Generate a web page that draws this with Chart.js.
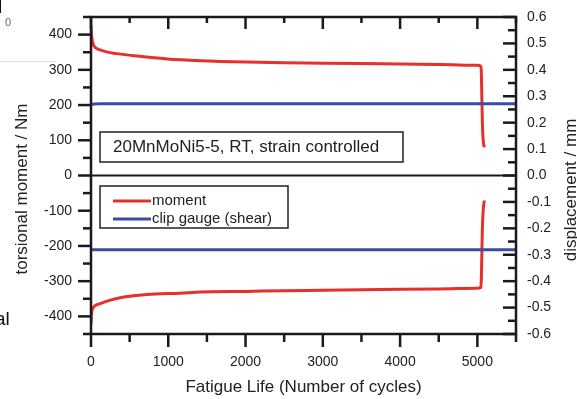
<!DOCTYPE html>
<html><head><meta charset="utf-8">
<script src="https://cdn.jsdelivr.net/npm/chart.js@4.4.1/dist/chart.umd.min.js"></script>
<style>
html,body{margin:0;padding:0;background:#fff;}
#wrap{position:relative;width:577px;height:399px;overflow:hidden;background:#fff;}
canvas{position:absolute;left:0;top:0;}
.art{position:absolute;font-family:"Liberation Sans",Arial,sans-serif;color:#111;white-space:nowrap;line-height:1;}
</style></head><body>
<div id="wrap">
<canvas id="c" width="577" height="399"></canvas>
<div class="art" style="left:-12px;top:-4px;font-size:20px;font-weight:bold;">П</div>
<div class="art" style="left:5px;top:17px;font-size:11px;color:#666;">0</div>
<div class="art" style="left:-5px;top:309px;font-size:19px;">al</div>
<div style="position:absolute;left:0;top:61px;width:55px;height:1px;background:#ddd;"></div>
</div>
<script>
// ---- data ----
const cyclesUpper = [0, 5, 15, 30, 52, 100, 200, 333, 600, 987, 1415, 2000, 2500, 3000, 3750, 4500, 5000, 5045, 5052, 5058, 5065, 5075, 5090];
const momentUpper = [426, 405, 385, 372, 364, 358, 351, 346, 339, 331, 326, 322, 320, 319, 317, 315, 313, 310, 290, 220, 150, 100, 80];
const cyclesLower = [0, 4, 10, 22, 50, 117, 250, 377, 723, 1156, 1416, 2000, 2500, 3000, 3750, 4500, 5000, 5045, 5052, 5058, 5065, 5075, 5090];
const momentLower = [-422, -400, -386, -378, -370, -364, -354, -347, -338, -334, -331, -329, -327, -326, -324, -322, -320, -318, -290, -220, -150, -100, -71];
const clipCycles = [0, 100, 2000, 4000, 5500];
const clipUpper = [0.270, 0.272, 0.272, 0.272, 0.272];
const clipLower = [-0.281, -0.281, -0.281, -0.281, -0.281];

const xTicks = [0, 1000, 2000, 3000, 4000, 5000];
const xMinorTicks = [500, 1500, 2500, 3500, 4500, 5500];
const leftTicks = [-400, -300, -200, -100, 0, 100, 200, 300, 400];
const leftMinorTicks = [-450, -350, -250, -150, -50, 50, 150, 250, 350, 450];
const rightTicks = [-0.6, -0.5, -0.4, -0.3, -0.2, -0.1, 0, 0.1, 0.2, 0.3, 0.4, 0.5, 0.6];
const rightMinorTicks = [-0.55, -0.45, -0.35, -0.25, -0.15, -0.05, 0.05, 0.15, 0.25, 0.35, 0.45, 0.55];

const xTitle = 'Fatigue Life (Number of cycles)';
const leftTitle = 'torsional moment / Nm';
const rightTitle = 'displacement / mm';
const boxText = '20MnMoNi5-5, RT, strain controlled';
const legendLabels = ['moment', 'clip gauge (shear)'];

const RED = '#e5302b', BLUE = '#3a4da6', INK = '#1a1a1a', TXT = '#222';
const F = '"Liberation Sans", Arial, sans-serif';

const pts = (xs, ys) => xs.map((x, i) => ({x, y: ys[i]}));
const noPad = s => { s.paddingTop = 0; s.paddingBottom = 0; s.paddingLeft = 0; s.paddingRight = 0; };

const decor = {
  id: 'decor',
  afterDatasetsDraw(chart) {
    const {ctx, chartArea: a, scales} = chart;
    const x = scales.x, y = scales.y, y2 = scales.y2;
    const seg = (x1, y1, x2, y2_) => { ctx.beginPath(); ctx.moveTo(x1, y1); ctx.lineTo(x2, y2_); ctx.stroke(); };
    ctx.save();
    ctx.strokeStyle = INK;
    ctx.lineCap = 'butt';
    // zero line
    ctx.lineWidth = 2;
    const y0 = y.getPixelForValue(0);
    seg(a.left, y0, a.right, y0);
    // frame
    ctx.lineWidth = 2.5;
    ctx.strokeRect(a.left, a.top, a.right - a.left, a.bottom - a.top);
    // ticks
    ctx.lineWidth = 2.5;
    leftTicks.forEach(v => { const p = y.getPixelForValue(v); seg(a.left - 13, p, a.left, p); });
    leftMinorTicks.forEach(v => { const p = y.getPixelForValue(v); seg(a.left - 8, p, a.left, p); });
    rightTicks.forEach(v => { const p = y2.getPixelForValue(v); seg(a.right - 13, p, a.right, p); });
    rightMinorTicks.forEach(v => { const p = y2.getPixelForValue(v); seg(a.right - 8, p, a.right, p); });
    xTicks.forEach(v => { const p = x.getPixelForValue(v); seg(p, a.bottom, p, a.bottom + 13); seg(p, a.top, p, a.top + 12); });
    xMinorTicks.forEach(v => { const p = x.getPixelForValue(v); seg(p, a.bottom, p, a.bottom + 8); seg(p, a.top, p, a.top + 6); });
    // annotation box
    ctx.lineWidth = 1.5;
    ctx.strokeStyle = '#222';
    const bx = a.left + 9, by = a.top + 115;
    ctx.strokeRect(bx, by, 303, 30);
    ctx.fillStyle = TXT;
    ctx.font = '17px ' + F;
    ctx.textBaseline = 'middle';
    ctx.textAlign = 'left';
    ctx.fillText(boxText, bx + 13, by + 15.5);
    // legend
    const lx = a.left + 9, ly = a.top + 169;
    ctx.strokeRect(lx, ly, 188, 42);
    ctx.font = '15px ' + F;
    const ds = chart.data.datasets;
    [[ds[2].borderColor, legendLabels[0], 15], [ds[0].borderColor, legendLabels[1], 33]].forEach(([c, t, dy]) => {
      ctx.strokeStyle = c; ctx.lineWidth = 3;
      seg(lx + 13, ly + dy, lx + 51, ly + dy);
      ctx.fillStyle = TXT;
      ctx.fillText(t, lx + 52, ly + dy);
    });
    // vertical axis titles
    ctx.font = '17px ' + F;
    ctx.textAlign = 'center';
    ctx.textBaseline = 'middle';
    ctx.fillStyle = TXT;
    ctx.save(); ctx.translate(22, 189); ctx.rotate(-Math.PI / 2); ctx.fillText(leftTitle, 0, 0); ctx.restore();
    ctx.save(); ctx.translate(571, 190); ctx.rotate(-Math.PI / 2); ctx.fillText(rightTitle, 0, 0); ctx.restore();
    ctx.restore();
  }
};

new Chart(document.getElementById('c'), {
  type: 'line',
  data: {
    datasets: [
      {label: legendLabels[1], data: pts(clipCycles, clipUpper), yAxisID: 'y2', borderColor: BLUE, borderWidth: 3, pointRadius: 0, order: 0},
      {label: legendLabels[1] + ' min', data: pts(clipCycles, clipLower), yAxisID: 'y2', borderColor: BLUE, borderWidth: 3, pointRadius: 0, order: 0},
      {label: legendLabels[0], data: pts(cyclesUpper, momentUpper), yAxisID: 'y', borderColor: RED, borderWidth: 3, pointRadius: 0, cubicInterpolationMode: 'monotone', order: 1},
      {label: legendLabels[0] + ' min', data: pts(cyclesLower, momentLower), yAxisID: 'y', borderColor: RED, borderWidth: 3, pointRadius: 0, cubicInterpolationMode: 'monotone', order: 1}
    ]
  },
  options: {
    responsive: false,
    animation: false,
    devicePixelRatio: 1,
    layout: {padding: {top: 17, left: 0, right: 0, bottom: 0}},
    plugins: {legend: {display: false}, tooltip: {enabled: false}},
    scales: {
      x: {
        type: 'linear', position: 'bottom', min: 0, max: 5500,
        afterBuildTicks: s => { s.ticks = xTicks.map(v => ({value: v})); },
        afterFit: s => { s.height = 65; noPad(s); },
        grid: {display: false, drawTicks: false},
        border: {display: false},
        ticks: {padding: 20, color: TXT, font: {family: F, size: 14}, maxRotation: 0, callback: v => String(v)},
        title: {display: true, text: xTitle, color: TXT, font: {family: F, size: 17}, padding: {top: 0, bottom: 1}}
      },
      y: {
        type: 'linear', position: 'left', min: -450, max: 450,
        afterBuildTicks: s => { s.ticks = leftTicks.map(v => ({value: v})); },
        afterFit: s => { s.width = 91; noPad(s); },
        grid: {display: false, drawTicks: false},
        border: {display: false},
        ticks: {padding: 19, color: TXT, font: {family: F, size: 14}, callback: v => String(v)}
      },
      y2: {
        type: 'linear', position: 'right', min: -0.6, max: 0.6,
        afterBuildTicks: s => { s.ticks = rightTicks.map(v => ({value: v})); },
        afterFit: s => { s.width = 61; noPad(s); },
        grid: {display: false, drawTicks: false},
        border: {display: false},
        ticks: {padding: 11, color: TXT, font: {family: F, size: 14}, callback: v => Number(v).toFixed(1)}
      }
    }
  },
  plugins: [decor]
});
</script>
</body></html>
